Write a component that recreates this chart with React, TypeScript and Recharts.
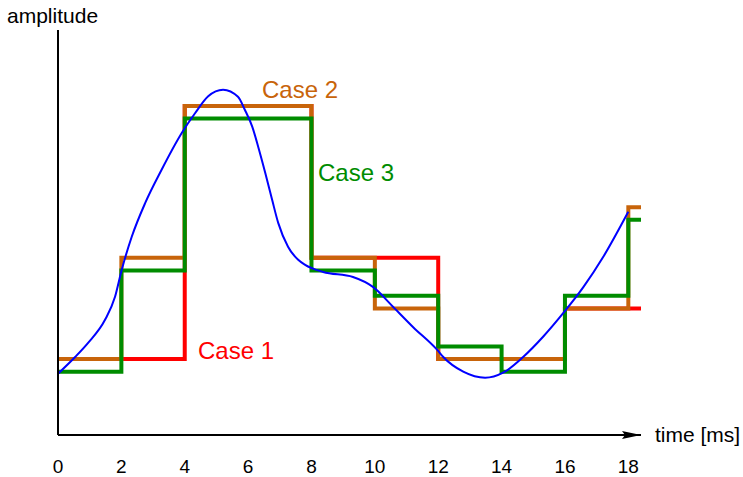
import { Line, LineChart, XAxis, YAxis } from 'recharts';

const timeTicks = [0, 2, 4, 6, 8, 10, 12, 14, 16, 18];

// Case 1: sample every 4 ms, hold
const case1Time = [0, 4, 8, 12, 16, 18.4];
const case1Amp = [1.5, 6.5, 3.5, 1.5, 2.5, 2.5];

// Case 2 / Case 3: sample every 2 ms
const case2Time = [0, 2, 4, 6, 8, 10, 12, 14, 16, 18, 18.4];
const case2Amp = [1.5, 3.5, 6.5, 6.5, 3.5, 2.5, 1.5, 1.5, 2.5, 4.5, 4.5];
const case3Amp = [1.25, 3.25, 6.25, 6.25, 3.25, 2.75, 1.75, 1.25, 2.75, 4.25, 4.25];

// analog signal
const signalTime = [
    0, 0.54, 0.95, 1.48, 1.8, 2.01, 2.33, 2.75, 3.27, 3.91, 4.33, 4.74, 5.21, 5.68, 5.9,
    6.13, 6.32, 6.54, 6.76, 6.95, 7.26, 7.58, 7.8, 8.37, 9.31, 9.95, 10.58, 11.21, 11.97,
    12.16, 12.79, 13.48, 14.05, 14.68, 15.31, 15.95, 16.58, 17.21, 18.0,
];
const signalAmp = [
    1.21, 1.54, 1.82, 2.27, 2.73, 3.26, 3.92, 4.58, 5.24, 5.97, 6.36, 6.69, 6.82, 6.68, 6.42,
    6.09, 5.69, 5.18, 4.64, 4.19, 3.72, 3.46, 3.36, 3.22, 3.12, 2.92, 2.53, 2.13, 1.68,
    1.54, 1.25, 1.13, 1.23, 1.54, 1.94, 2.41, 2.92, 3.52, 4.41,
];

const rows = (ts: number[], as: number[]) => ts.map((t, i) => ({ t, a: as[i] }));

const FONT = '"Liberation Sans", Arial, Helvetica, sans-serif';

export default function App() {
    return (
        <div style={{ position: 'absolute', left: 0, top: 0 }}>
            <LineChart
                width={743}
                height={477}
                margin={{ top: 30, right: 102, bottom: 0, left: 0 }}
                style={{ fontFamily: FONT }}
            >
                <defs>
                    <marker
                        id="arrowHead"
                        viewBox="0 0 19 8"
                        refX={19}
                        refY={4}
                        markerWidth={19}
                        markerHeight={8}
                        markerUnits="userSpaceOnUse"
                        orient="auto"
                    >
                        <path d="M0,0 L19,4 L0,8 L3,4 z" fill="#000" />
                    </marker>
                </defs>
                <XAxis
                    type="number"
                    dataKey="t"
                    domain={[0, 18.4]}
                    ticks={timeTicks}
                    interval={0}
                    height={42}
                    tickLine={false}
                    tickSize={0}
                    tickMargin={25}
                    tick={{ fill: '#000', fontSize: 19 }}
                    axisLine={{ stroke: '#000', strokeWidth: 2, markerEnd: 'url(#arrowHead)' }}
                />
                <YAxis
                    type="number"
                    domain={[0, 8]}
                    width={58}
                    tick={false}
                    tickLine={false}
                    axisLine={{ stroke: '#000', strokeWidth: 2 }}
                />
                <Line
                    data={rows(case1Time, case1Amp)}
                    dataKey="a"
                    type="stepAfter"
                    stroke="#ff0000"
                    strokeWidth={4}
                    dot={false}
                    activeDot={false}
                    isAnimationActive={false}
                />
                <Line
                    data={rows(case2Time, case2Amp)}
                    dataKey="a"
                    type="stepAfter"
                    stroke="#c8640a"
                    strokeWidth={4}
                    dot={false}
                    activeDot={false}
                    isAnimationActive={false}
                />
                <Line
                    data={rows(case2Time, case3Amp)}
                    dataKey="a"
                    type="stepAfter"
                    stroke="#008c00"
                    strokeWidth={4}
                    dot={false}
                    activeDot={false}
                    isAnimationActive={false}
                />
                <Line
                    data={rows(signalTime, signalAmp)}
                    dataKey="a"
                    type="monotone"
                    stroke="#0000ff"
                    strokeWidth={2}
                    dot={false}
                    activeDot={false}
                    isAnimationActive={false}
                />
                <text x={7} y={23} fontSize={21} fill="#000">amplitude</text>
                <text x={655} y={442} fontSize={21} fill="#000">time [ms]</text>
                <text x={198} y={359} fontSize={24} fill="#ff0000">Case 1</text>
                <text x={262} y={98} fontSize={24} fill="#c8640a">Case 2</text>
                <text x={318} y={181} fontSize={24} fill="#008c00">Case 3</text>
            </LineChart>
        </div>
    );
}
